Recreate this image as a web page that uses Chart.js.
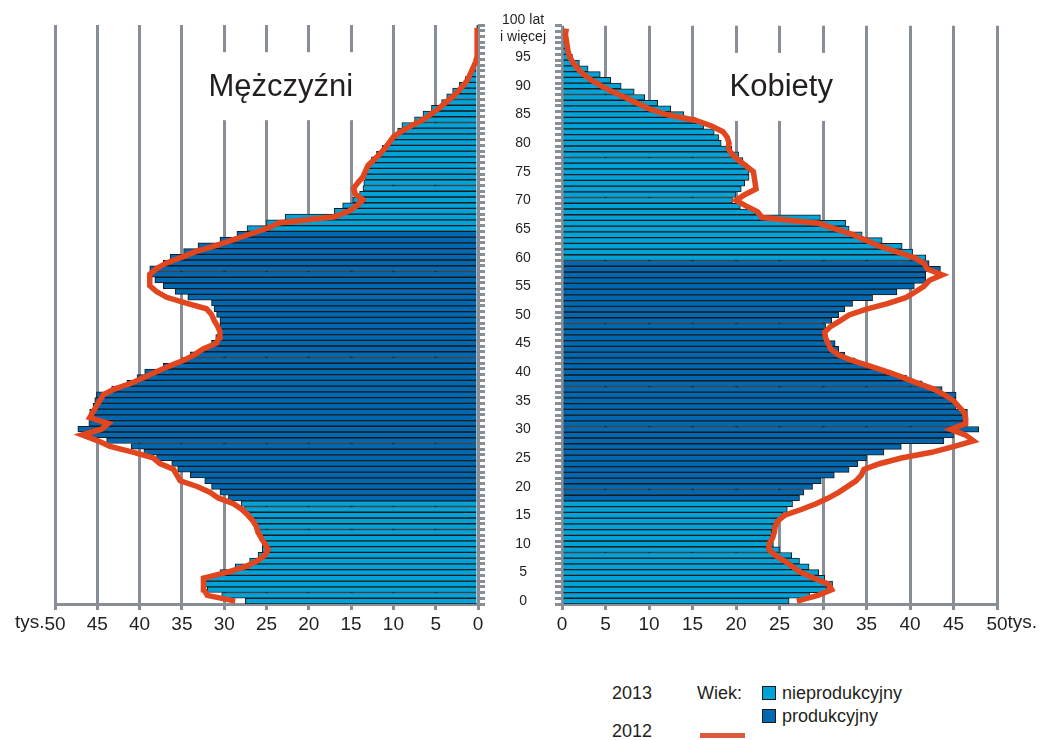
<!DOCTYPE html>
<html>
<head>
<meta charset="utf-8">
<script src="https://cdn.jsdelivr.net/npm/chart.js@4.4.0/dist/chart.umd.min.js"></script>
<style>
  body { margin: 0; background: #fff; font-family: "Liberation Sans", Arial, sans-serif; color: #231f20; }
  #wrap { position: relative; width: 1046px; height: 740px; overflow: hidden; }
  #men { position: absolute; left: 0; top: 0; }
  #women { position: absolute; left: 486px; top: 0; }
  .lt { position: absolute; font-size: 18px; line-height: 20px; white-space: nowrap; }
  .box { position: absolute; width: 12px; height: 12px; border: 1.5px solid #1a1a1a; }
  .red { position: absolute; background: #db5a3f; }
</style>
</head>
<body>
<div id="wrap">
  <canvas id="men" width="487" height="640"></canvas>
  <canvas id="women" width="560" height="640"></canvas>

  <div class="lt" style="left:612px;top:683px">2013</div>
  <div class="lt" style="left:697px;top:683px">Wiek:</div>
  <div class="box" style="left:762px;top:686px;background:#00a2d8"></div>
  <div class="lt" style="left:782px;top:683px">nieprodukcyjny</div>
  <div class="box" style="left:762px;top:709px;background:#0067b1"></div>
  <div class="lt" style="left:782px;top:706px">produkcyjny</div>
  <div class="lt" style="left:612px;top:721px">2012</div>
  <div class="red" style="left:700px;top:733px;width:45px;height:5px"></div>
</div>

<script>
// wiek 0..100 (100 = 100 lat i więcej)
var ages = [0,1,2,3,4,5,6,7,8,9,10,11,12,13,14,15,16,17,18,19,20,21,22,23,24,25,26,27,28,29,30,
  31,32,33,34,35,36,37,38,39,40,41,42,43,44,45,46,47,48,49,50,51,52,53,54,55,56,57,58,59,60,
  61,62,63,64,65,66,67,68,69,70,71,72,73,74,75,76,77,78,79,80,81,82,83,84,85,86,87,88,89,90,
  91,92,93,94,95,96,97,98,99,100];

// tys. osob, 2013 (slupki)
var men2013 = [27.5,30.3,32,32.3,32.3,30.5,28.7,27,26,25.5,25.5,25.8,26,26.3,26.5,27,27.6,28,29.5,30.5,
  31.5,32.3,34,35.5,36.2,38,39.5,41,43.9,46.3,47.3,46,45.9,45.9,45.5,45.3,45.1,43.3,41.5,40.3,
  39.4,37.2,35,34,32.5,31.5,31,30.5,30.5,30.5,30.9,31.2,31.5,34.3,35.8,37.2,38.2,38.5,38.8,37.2,
  36.4,34.8,33.1,30.5,28.5,27.3,25,22.8,17,16,14.8,14,13.6,13.5,13.3,13.2,13,12.6,12,11.3,
  10.6,10,9.5,9,7.5,6.5,5.5,4.3,3.7,3,2.2,1.5,0.8,0.4,0.3,0.2,0.15,0.1,0.1,0.05,0.05];

var women2013 = [26.1,28.5,30.5,31.1,30.2,29.5,28.4,27.3,26.4,25,24.3,24,24.1,24.3,24.7,25.4,25.9,26.5,27.3,27.8,
  28.8,29.8,31.3,33,34,35,37,39,43.9,45,47.9,46.6,46.6,46.6,45.3,45.3,45.3,43.7,41.4,39.6,
  37.4,35.3,33.7,32.5,31.8,31.4,30.5,30.1,30.3,31,31.8,32.5,33.4,35.7,38.5,40.5,41.8,41.8,43.5,42.2,
  41.8,40.3,39.1,36.8,34.5,33,32.6,29.7,22.3,20.5,19.6,20,20.6,21,21.5,21.5,21.3,20.8,20.3,19.5,
  18.3,18,17.5,16.3,15.3,14,12.5,11,9.5,8.3,6.8,5.6,4.4,3,2,1.2,0.7,0.4,0.3,0.2,0.2];

// tys. osob, 2012 (linia)
var men2012 = [28.7,32,32.4,32.4,32.5,29.7,27.5,26.1,25.2,24.8,25.2,25.6,26,26.2,26.6,27.2,27.9,28.9,30.7,31.7,
  33.2,35.2,35.6,36,37.6,38.4,40.8,43.5,45,46.8,44.5,43.7,45.9,45.5,45.1,44.7,44.3,43,41,39.5,
  38,36.5,34.8,33.5,32.5,30.9,30.6,30.5,30.8,31.2,31.5,32.1,34.5,36.8,38,38.8,38.8,38.8,38,36.8,
  35,33.3,31,29,27,25,23.4,17.1,15.3,14.3,13.6,14.5,14.7,14.2,13.6,13.3,13,12.3,11.6,11,
  10.5,10,9,7.8,6.5,5.5,4.6,3.8,3,2.3,1.7,1.2,0.9,0.6,0.3,0.1,0.1,0.1,0.1,0.1,0.1];

var women2012 = [27,29.4,31,30.6,29,27.5,26.5,25.6,24.5,23.8,23.8,24.2,24.4,24.5,24.8,25.6,27.5,29.2,30.6,31.8,
  32.8,33.8,34.4,34.7,36.5,39,42.5,45,47.3,46.4,44.7,46.4,46.4,46.2,45.6,45,44,42.8,41,39.3,
  37.5,35.5,33.4,31.8,30.9,30.6,30.3,30.2,30.9,32,33,35,37.5,39.5,40.6,41.6,42.2,43.7,42,41.6,
  40.5,38.5,36.5,35,33.5,31.5,29.5,23,22.5,21.2,20,21,22.3,22.2,22.1,22,21.2,20.3,19.6,19.1,
  19.2,19,18.5,17.2,15.3,12,10,8.6,7.2,5.8,4.5,3.4,2.5,1.8,1.3,0.9,0.7,0.6,0.5,0.4,0.5];

// wiek produkcyjny
var menWorkAge = [18, 64];
var womenWorkAge = [18, 59];

var colNonWork = '#00a2d8';
var colWork = '#0067b1';
var colLine = '#e2461f';
var colGrid = '#878e96';
var colText = '#231f20';
var fontFam = '"Liberation Sans", Arial, sans-serif';

Chart.defaults.font.family = fontFam;
Chart.defaults.color = colText;

function barColors(range) {
  return ages.map(function(a) {
    return (a >= range[0] && a <= range[1]) ? colWork : colNonWork;
  });
}

// bialy prostokat z tytulem (Mężczyźni / Kobiety)
var sideTitle = {
  id: 'sideTitle',
  beforeDatasetsDraw: function(chart, args, opts) {
    var ctx = chart.ctx;
    var x = chart.scales.x.getPixelForValue(opts.at);
    var y = chart.scales.y.getPixelForValue(ages.indexOf(90));
    ctx.save();
    ctx.font = '31px ' + fontFam;
    var w = ctx.measureText(opts.text).width;
    ctx.fillStyle = '#fff';
    ctx.fillRect(x - w / 2 - 9, y - 33, w + 18, 68);
    ctx.fillStyle = colText;
    ctx.textAlign = 'center';
    ctx.textBaseline = 'middle';
    ctx.fillText(opts.text, x, y + 2);
    ctx.restore();
  }
};

// "tys." obok podzialki 50
var unitLabel = {
  id: 'unitLabel',
  afterDraw: function(chart, args, opts) {
    var sc = chart.scales.x;
    var ctx = chart.ctx;
    var x = sc.getPixelForValue(50);
    ctx.save();
    ctx.font = '19px ' + fontFam;
    ctx.fillStyle = colText;
    ctx.textBaseline = 'top';
    var half = ctx.measureText('50').width / 2;
    if (opts.side === 'left') {
      ctx.textAlign = 'right';
      ctx.fillText('tys.', x - half, sc.top + 9);
    } else {
      ctx.textAlign = 'left';
      ctx.fillText('tys.', x + half, sc.top + 9);
    }
    ctx.restore();
  }
};

function makeChart(id, bars, line, range, reverse, title, titleAt, side) {
  var yAxis = {
    type: 'category',
    reverse: true,
    position: side === 'left' ? 'right' : 'left',
    border: { display: false },
    grid: { drawOnChartArea: false, drawTicks: true, tickLength: 7, color: colGrid, lineWidth: 3 },
    afterFit: function(scale) { scale.width = side === 'left' ? 9 : 76; }
  };
  if (side === 'left') {
    yAxis.ticks = { display: false, autoSkip: false };
  } else {
    yAxis.ticks = {
      autoSkip: false,
      crossAlign: 'center',
      padding: 9,
      font: { size: 14 },
      color: colText,
      callback: function(val) {
        var a = Number(this.getLabelForValue(val));
        if (a === 100) return ['100 lat', 'i więcej'];
        return a % 5 === 0 ? String(a) : '';
      }
    };
  }

  return new Chart(document.getElementById(id), {
    type: 'bar',
    data: {
      labels: ages,
      datasets: [{
        type: 'line',
        label: '2012',
        data: line,
        borderColor: colLine,
        borderWidth: 5.5,
        pointRadius: 0,
        tension: 0,
        order: 0
      }, {
        label: '2013',
        data: bars,
        backgroundColor: barColors(range),
        borderColor: '#1a1a1a',
        borderWidth: 1,
        barPercentage: 1,
        categoryPercentage: 1,
        order: 1
      }]
    },
    options: {
      indexAxis: 'y',
      responsive: false,
      animation: false,
      devicePixelRatio: 1,
      layout: { padding: side === 'left' ? { left: 55, top: 25, right: 0, bottom: 0 } : { left: 0, top: 25, right: 49, bottom: 0 } },
      scales: {
        x: {
          min: 0,
          max: 50,
          reverse: reverse,
          border: { color: colGrid, width: 3 },
          grid: { color: colGrid, lineWidth: 3, drawTicks: true, tickLength: 6 },
          ticks: { stepSize: 5, padding: 3, font: { size: 19 }, color: colText, maxRotation: 0 },
          afterFit: function(scale) { scale.height = 36; }
        },
        y: yAxis
      },
      plugins: {
        legend: { display: false },
        tooltip: { enabled: false },
        sideTitle: { text: title, at: titleAt },
        unitLabel: { side: side }
      }
    },
    plugins: [sideTitle, unitLabel]
  });
}

makeChart('men', men2013, men2012, menWorkAge, true, 'Mężczyźni', 23.3, 'left');
makeChart('women', women2013, women2012, womenWorkAge, false, 'Kobiety', 25.2, 'right');
</script>
</body>
</html>
